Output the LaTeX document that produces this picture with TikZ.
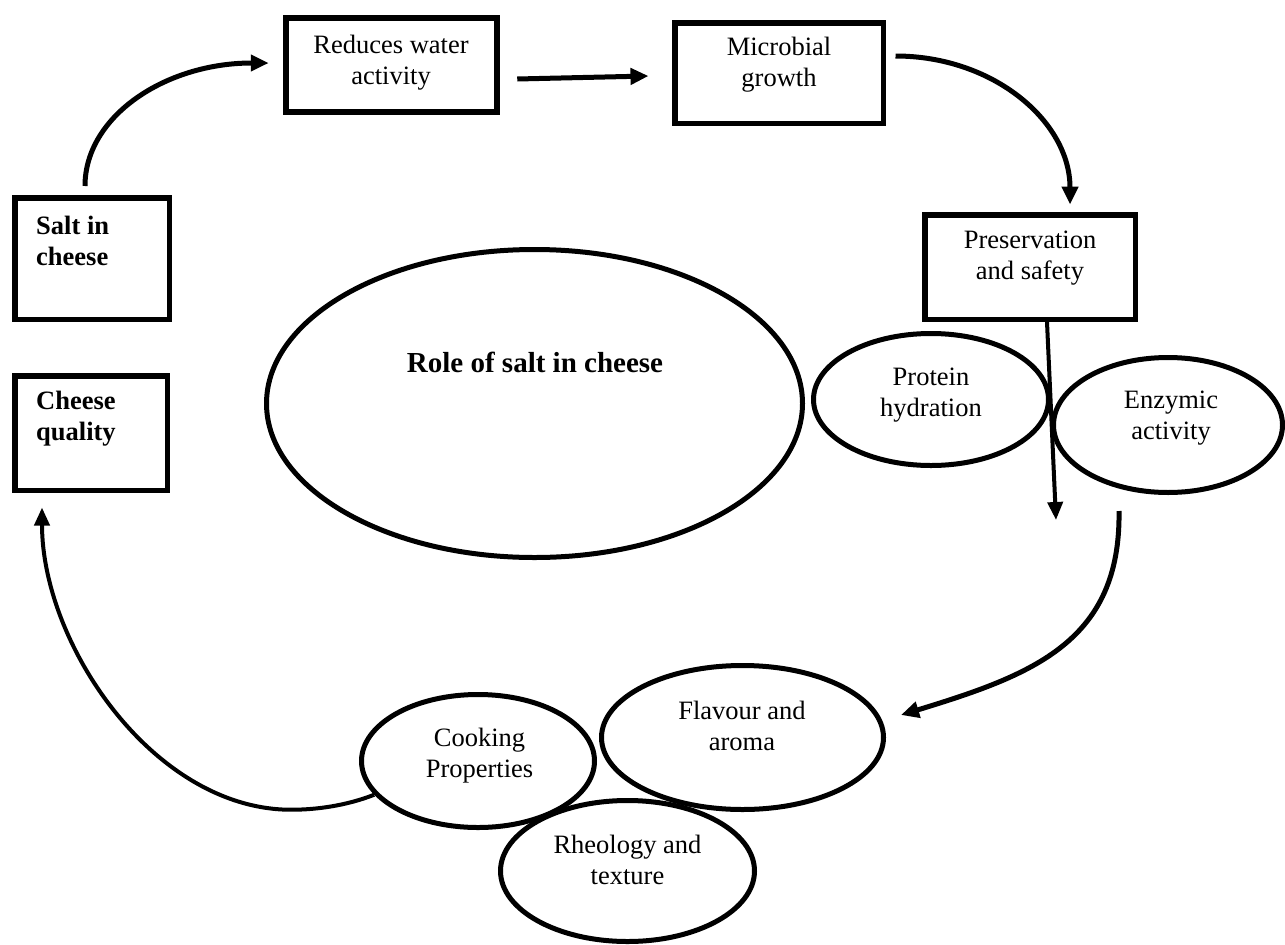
\documentclass[tikz,border=0pt]{standalone}
\usepackage{fontspec}
\setmainfont{Liberation Serif}
\usetikzlibrary{shapes.geometric,arrows.meta,calc}
\begin{document}
\begin{tikzpicture}[x=1pt,y=1pt,
  box/.style={draw, line width=5.5pt, rectangle, inner sep=0pt},
  oval/.style={draw, line width=5pt, ellipse, inner sep=0pt},
  lbl/.style={font=\fontsize{26.5}{30.5}\selectfont, align=center, anchor=base, inner sep=0pt},
  blbl/.style={font=\fontsize{26.5}{31}\selectfont\bfseries, align=left, anchor=base west, inner sep=0pt},
  arr/.style={line width=5pt, -{Triangle[length=18pt,width=16pt]}},
  thinarr/.style={line width=4pt, -{Triangle[length=18pt,width=15pt]}},
]
\useasboundingbox (0,0) rectangle (1285,-945);
% boxes
\node[box, minimum width=211pt, minimum height=94pt]  (red)  at (391.5,-65) {};
\node[box, minimum width=208.5pt, minimum height=100.5pt] (mic)  at (779,-73) {};
\node[box, minimum width=210.5pt, minimum height=104.5pt] (pres) at (1030,-267) {};
\node[box, minimum width=154.5pt, minimum height=121.5pt] (salt) at (92,-258.5) {};
\node[box, minimum width=152.5pt, minimum height=114.5pt] (cq)   at (91,-433) {};
% ellipses
\node[oval, minimum width=536pt, minimum height=308pt] (role) at (534.5,-403.5) {};
\node[oval, minimum width=235pt, minimum height=132pt] (prot) at (931,-399.5) {};
\node[oval, minimum width=229pt, minimum height=135pt] (enz)  at (1168,-425) {};
\node[oval, minimum width=233pt, minimum height=133pt] (cook) at (478,-761) {};
\node[oval, minimum width=282pt, minimum height=144pt] (flav) at (742.5,-737.5) {};
\node[oval, minimum width=254pt, minimum height=141pt] (rheo) at (627.5,-871) {};
% texts (base = baseline of last line)
\node[lbl] (red-t)  at (391,-84)  {Reduces water\\activity};
\node[lbl] (mic-t)  at (779,-86)  {Microbial\\growth};
\node[lbl] (pres-t) at (1030,-279) {Preservation\\and safety};
\node[lbl] (prot-t) at (931,-416) {Protein\\hydration};
\node[lbl] (enz-t)  at (1171,-439) {Enzymic\\activity};
\node[lbl] (cook-t) at (479.5,-777) {Cooking\\Properties};
\node[lbl] (flav-t) at (742,-750) {Flavour and\\aroma};
\node[lbl] (rheo-t) at (627.5,-884) {Rheology and\\texture};
\node[blbl] (salt-t) at (36,-265) {Salt in\\cheese};
\node[blbl] (cq-t)   at (36,-440) {Cheese\\quality};
\node[font=\fontsize{29}{33}\selectfont\bfseries, anchor=base, inner sep=0pt] (role-t) at (535,-372) {Role of salt in cheese};
% connectors
\draw[arr] ($(salt.north)+(-7,9)$) .. controls +(0,70) and +(-103,0) .. ($(red.west)+(-14.5,2)$);
\draw[arr] ($(red.east)+(17.5,-14)$) -- ($(mic.west)+(-23.5,-3)$);
\draw[arr] ($(mic.east)+(9.5,17)$) .. controls +(98,0) and +(0,83) .. ($(pres.north)+(40,7.5)$);
\coordinate (down) at (1056,-520);
\draw[thinarr] ($(pres.south)+(17,0)$) -- (down);
\draw[arr] ($(enz.south)+(-49,-16)$) .. controls +(2,-131) and +(131,40) .. ($(flav.east)+(15,22.5)$);
\draw[thinarr] (cook.198) .. controls +(-28,-11) and +(25,0) .. ++(-83,-15)
  .. controls +(-137,0) and +(0,-137) .. ($(cq.south)+(-49,-14.5)$);
\end{tikzpicture}
\end{document}
